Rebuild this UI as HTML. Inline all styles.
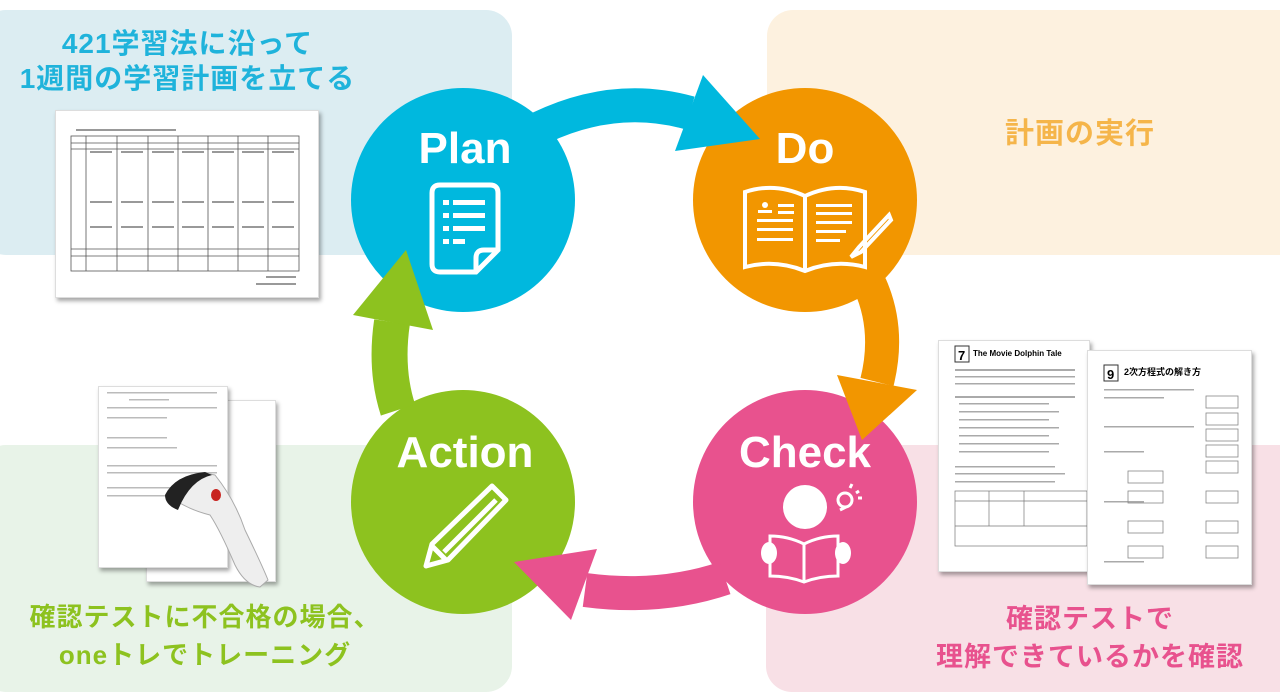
<!DOCTYPE html>
<html><head><meta charset="utf-8"><style>
html,body{margin:0;padding:0;background:#fff;}
body{width:1280px;height:700px;position:relative;overflow:hidden;font-family:"Liberation Sans","Noto Sans CJK JP",sans-serif;}
.p{position:absolute;border-radius:26px;}
.t{position:absolute;font-weight:bold;text-align:center;white-space:nowrap;letter-spacing:1px;}
.doc{position:absolute;background:#fff;box-shadow:2px 3px 4px rgba(0,0,0,.35);border:1px solid #ddd;}
</style></head><body>
<div class="p" style="left:-20px;top:10px;width:532px;height:245px;background:#dcedf2"></div>
<div class="p" style="left:767px;top:10px;width:540px;height:245px;background:#fdf1df"></div>
<div class="p" style="left:-20px;top:445px;width:532px;height:247px;background:#e8f3e8"></div>
<div class="p" style="left:766px;top:445px;width:540px;height:247px;background:#f8e0e6"></div>

<div class="t" style="left:0;width:375px;top:26px;font-size:28px;line-height:35px;color:#1fb3db">421学習法に沿って<br>1週間の学習計画を立てる</div>
<div class="t" style="left:960px;width:240px;top:110px;font-size:29px;color:#f5b54a">計画の実行</div>
<div class="t" style="left:10px;width:390px;top:598px;font-size:26px;line-height:38px;color:#8dc21f">確認テストに不合格の場合、<br>oneトレでトレーニング</div>
<div class="t" style="left:920px;width:340px;top:600px;font-size:27px;line-height:38px;color:#e8528e">確認テストで<br>理解できているかを確認</div>

<!-- plan doc -->
<div class="doc" style="left:55px;top:110px;width:262px;height:186px">
<svg width="262" height="186" style="position:absolute;left:0;top:0">
<g stroke="#555" stroke-width="0.8" fill="none">
<rect x="15" y="25" width="228" height="135"/>
<line x1="15" y1="32" x2="243" y2="32"/><line x1="15" y1="38" x2="243" y2="38"/>
<line x1="15" y1="138" x2="243" y2="138"/><line x1="15" y1="145" x2="243" y2="145"/>
<line x1="30" y1="25" x2="30" y2="160"/><line x1="61" y1="25" x2="61" y2="160"/><line x1="92" y1="25" x2="92" y2="160"/><line x1="122" y1="25" x2="122" y2="160"/><line x1="152" y1="25" x2="152" y2="160"/><line x1="182" y1="25" x2="182" y2="160"/><line x1="212" y1="25" x2="212" y2="160"/>
</g>
<g fill="#999"><rect x="34" y="40" width="22" height="2"/><rect x="65" y="40" width="22" height="2"/><rect x="96" y="40" width="22" height="2"/><rect x="126" y="40" width="22" height="2"/><rect x="156" y="40" width="22" height="2"/><rect x="186" y="40" width="22" height="2"/><rect x="216" y="40" width="22" height="2"/>
<rect x="34" y="90" width="22" height="2"/><rect x="65" y="90" width="22" height="2"/><rect x="96" y="90" width="22" height="2"/><rect x="126" y="90" width="22" height="2"/><rect x="156" y="90" width="22" height="2"/><rect x="186" y="90" width="22" height="2"/><rect x="216" y="90" width="22" height="2"/>
<rect x="34" y="115" width="22" height="2"/><rect x="65" y="115" width="22" height="2"/><rect x="96" y="115" width="22" height="2"/><rect x="126" y="115" width="22" height="2"/><rect x="156" y="115" width="22" height="2"/><rect x="186" y="115" width="22" height="2"/><rect x="216" y="115" width="22" height="2"/>
<rect x="210" y="165" width="30" height="2"/><rect x="200" y="172" width="40" height="2"/><rect x="20" y="18" width="100" height="2"/></g>
</svg></div>

<!-- check docs -->
<div class="doc" style="left:938px;top:340px;width:150px;height:230px">
<svg width="150" height="230"><rect x="16" y="5" width="14" height="16" fill="none" stroke="#333"/><text x="19" y="19" font-size="13" font-weight="bold" font-family="Liberation Sans">7</text><text x="34" y="15" font-size="8" font-weight="bold" font-family="Liberation Sans">The Movie Dolphin Tale</text>
<g fill="#aaa"><rect x="16" y="28" width="120" height="2"/><rect x="16" y="35" width="120" height="1.5"/><rect x="16" y="42" width="120" height="1.5"/><rect x="16" y="55" width="120" height="2"/><rect x="20" y="62" width="90" height="1.5"/><rect x="20" y="70" width="100" height="1.5"/><rect x="20" y="78" width="90" height="1.5"/><rect x="20" y="86" width="100" height="1.5"/><rect x="20" y="94" width="90" height="1.5"/><rect x="20" y="102" width="100" height="1.5"/><rect x="20" y="110" width="90" height="1.5"/><rect x="16" y="125" width="100" height="1.5"/><rect x="16" y="132" width="110" height="1.5"/><rect x="16" y="140" width="100" height="1.5"/></g>
<g fill="none" stroke="#777" stroke-width=".7"><rect x="16" y="150" width="132" height="55"/><line x1="16" y1="160" x2="148" y2="160"/><line x1="16" y1="185" x2="148" y2="185"/><line x1="50" y1="150" x2="50" y2="185"/><line x1="85" y1="150" x2="85" y2="185"/></g></svg></div>
<div class="doc" style="left:1087px;top:350px;width:163px;height:233px">
<svg width="163" height="233"><rect x="16" y="14" width="14" height="16" fill="none" stroke="#333"/><text x="19" y="28" font-size="13" font-weight="bold" font-family="Liberation Sans">9</text><text x="36" y="24" font-size="9" font-weight="bold" font-family="Liberation Sans,Noto Sans CJK JP">2次方程式の解き方</text>
<g fill="#aaa"><rect x="16" y="38" width="90" height="1.5"/><rect x="16" y="46" width="60" height="1.5"/><rect x="16" y="75" width="90" height="1.5"/><rect x="16" y="100" width="40" height="1.5"/><rect x="16" y="150" width="40" height="1.5"/><rect x="16" y="210" width="40" height="1.5"/></g>
<g fill="none" stroke="#888" stroke-width=".8"><rect x="118" y="45" width="32" height="12"/><rect x="118" y="62" width="32" height="12"/><rect x="118" y="78" width="32" height="12"/><rect x="118" y="94" width="32" height="12"/><rect x="118" y="110" width="32" height="12"/><rect x="40" y="120" width="35" height="12"/><rect x="118" y="140" width="32" height="12"/><rect x="40" y="140" width="35" height="12"/><rect x="118" y="170" width="32" height="12"/><rect x="40" y="170" width="35" height="12"/><rect x="118" y="195" width="32" height="12"/><rect x="40" y="195" width="35" height="12"/></g></svg></div>

<!-- bottom-left docs + pen -->
<div class="doc" style="left:146px;top:400px;width:128px;height:180px"></div>
<div class="doc" style="left:98px;top:386px;width:128px;height:180px">
<svg width="128" height="180"><g fill="#bbb"><rect x="8" y="5" width="110" height="1.5"/><rect x="30" y="12" width="40" height="1.5"/><rect x="8" y="20" width="110" height="1.5"/><rect x="8" y="30" width="60" height="1.5"/><rect x="8" y="50" width="60" height="1.5"/><rect x="8" y="60" width="70" height="1.5"/><rect x="8" y="78" width="110" height="1.5"/><rect x="8" y="85" width="110" height="1.5"/><rect x="8" y="100" width="110" height="1.5"/><rect x="8" y="108" width="60" height="1.5"/></g></svg></div>
<svg style="position:absolute;left:0;top:0" width="1280" height="700">
<path d="M175 490 Q195 470 215 475 Q235 500 245 530 Q262 565 268 580 L260 587 Q245 585 235 565 Q220 530 210 515 Q190 510 175 500 Z" fill="#eee" stroke="#aaa"/>
<path d="M165 495 Q175 475 205 472 L212 475 Q190 480 178 510 Q165 505 165 495 Z" fill="#222"/>
<ellipse cx="216" cy="495" rx="5" ry="6" fill="#c8231f"/>
</svg>

<svg width="1280" height="700" style="position:absolute;left:0;top:0">
<circle cx="463" cy="200" r="112" fill="#00b8de"/>
<circle cx="805" cy="200" r="112" fill="#f29600"/>
<circle cx="805" cy="502" r="112" fill="#e8528e"/>
<circle cx="463" cy="502" r="112" fill="#8dc21f"/>
<path d="M540 128 Q615 92 690 113" stroke="#00b8de" stroke-width="34" fill="none"/>
<polygon points="703,75 760,139 675,151" fill="#00b8de"/>
<path d="M870 285 Q890 330 877 382" stroke="#f29600" stroke-width="34" fill="none"/>
<polygon points="837,375 917,390 862,440" fill="#f29600"/>
<path d="M725 578 Q660 600 585 590" stroke="#e8528e" stroke-width="34" fill="none"/>
<polygon points="597,549 514,562 571,620" fill="#e8528e"/>
<path d="M398 410 Q385 370 392 322" stroke="#8dc21f" stroke-width="36" fill="none"/>
<polygon points="353,315 406,250 433,330" fill="#8dc21f"/>
<g fill="#fff" font-family="Liberation Sans" font-weight="bold" font-size="44" text-anchor="middle">
<text x="465" y="163">Plan</text><text x="805" y="163">Do</text><text x="805" y="467">Check</text><text x="465" y="467">Action</text></g>
<g stroke="#fff" fill="none" stroke-width="5"><path d="M440 185 h50 q8 0 8 8 v57 l-22 22 h-36 q-8 0 -8 -8 v-71 q0 -8 8 -8z"/><path d="M498 250 h-14 q-8 0 -8 8 v14"/></g>
<g fill="#fff"><rect x="443" y="200" width="6" height="5"/><rect x="453" y="200" width="32" height="5"/><rect x="443" y="213" width="6" height="5"/><rect x="453" y="213" width="32" height="5"/><rect x="443" y="226" width="6" height="5"/><rect x="453" y="226" width="32" height="5"/><rect x="443" y="239" width="6" height="5"/><rect x="453" y="239" width="12" height="5"/></g>
<g stroke="#fff" fill="none" stroke-width="4"><path d="M745 192 q30 -10 60 4 q30 -14 60 -4 v75 q-30 -8 -60 4 q-30 -12 -60 -4z"/><line x1="805" y1="196" x2="805" y2="270"/><path d="M889 215 l-30 32 l-8 10 l10 -5 l30 -32z"/></g>
<g fill="#fff"><circle cx="765" cy="205" r="3"/><rect x="758" y="210" width="14" height="3"/><rect x="778" y="204" width="16" height="3"/><rect x="778" y="211" width="16" height="3"/><rect x="757" y="219" width="36" height="3"/><rect x="757" y="228" width="36" height="3"/><rect x="757" y="238" width="36" height="3"/><rect x="816" y="204" width="36" height="3"/><rect x="816" y="212" width="36" height="3"/><rect x="816" y="221" width="36" height="3"/><rect x="816" y="230" width="30" height="3"/><rect x="816" y="239" width="24" height="3"/></g>
<g fill="#fff"><circle cx="805" cy="507" r="22"/><ellipse cx="769" cy="553" rx="8" ry="11"/><ellipse cx="843" cy="553" rx="8" ry="11"/></g>
<g stroke="#fff" fill="none" stroke-width="3"><path d="M770 536 q18 0 34 8 q16 -8 34 -8 v40 q-18 0 -34 6 q-16 -6 -34 -6z"/><line x1="804" y1="544" x2="804" y2="582"/><circle cx="845" cy="500" r="7"/><line x1="840" y1="510" x2="846" y2="507"/><path d="M850 488 l2 -4 M856 493 l3 -2 M858 498 l4 0"/></g>
<g stroke="#fff" fill="none" stroke-width="5" stroke-linejoin="round"><path d="M492 486 l14 14 l-58 60 l-22 6 l6 -22z"/><line x1="432" y1="546" x2="446" y2="560"/><line x1="496" y1="500" x2="444" y2="552"/></g>
</svg>
</body></html>
